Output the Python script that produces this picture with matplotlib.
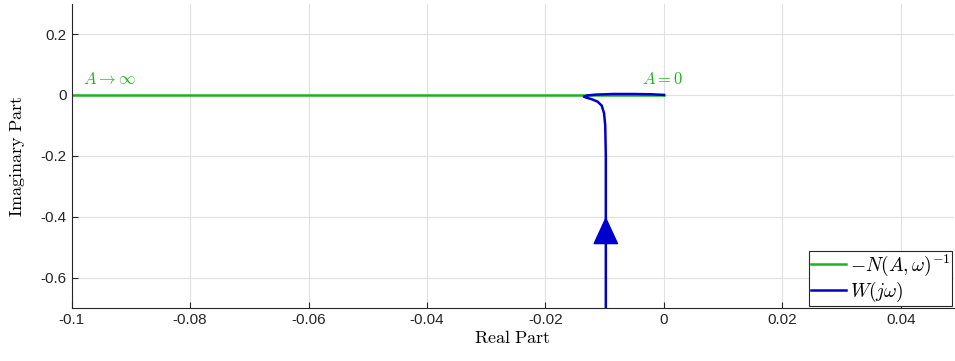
import numpy as np
import matplotlib.pyplot as plt

plt.rcParams['mathtext.fontset'] = 'cm'
plt.rcParams['font.family'] = ['Liberation Sans', 'DejaVu Sans']

# -N(A,w)^-1 : eje real negativo
n_re = [-0.1, 0.0]
n_im = [0.0, 0.0]

# W(jw)
w_re = [-0.0098, -0.0098, -0.0098, -0.0099, -0.0101, -0.0105, -0.0112, -0.0122,
        -0.0131, -0.0135, -0.0130, -0.0115, -0.0085, -0.005, -0.002, 0.0]
w_im = [-0.70, -0.40, -0.20, -0.10, -0.06, -0.035, -0.022, -0.014,
        -0.009, -0.006, -0.002, 0.001, 0.003, 0.003, 0.002, 0.0]

green = '#1fb21f'
blue = '#0000cc'

fig, ax = plt.subplots(figsize=(9.55, 3.61), dpi=100)
fig.subplots_adjust(left=0.075, right=0.999, top=0.99, bottom=0.147)

ax.plot(n_re, n_im, color=green, lw=1.8, label=r'$-N(A,\omega)^{-1}$')
ax.plot(w_re, w_im, color=blue, lw=1.8, label=r'$W(j\omega)$')

# flecha de direccion
ax.annotate('', xy=(w_re[1], -0.40), xytext=(w_re[1], -0.50),
            arrowprops=dict(arrowstyle='-|>,head_length=1.3,head_width=0.6',
                            color=blue, lw=1.0,
                            mutation_scale=14, shrinkA=0, shrinkB=0))

ax.text(-0.098, 0.035, r'$A\rightarrow\infty$', color=green, fontsize=12)
ax.text(-0.0037, 0.035, r'$A=0$', color=green, fontsize=12)

ax.set_xlim(-0.1, 0.049)
ax.set_ylim(-0.7, 0.3)
ax.set_xticks(np.arange(-0.1, 0.041, 0.02))
ax.set_xticklabels(['-0.1', '-0.08', '-0.06', '-0.04', '-0.02', '0', '0.02', '0.04'])
ax.set_yticks([-0.6, -0.4, -0.2, 0, 0.2])
ax.set_yticklabels(['-0.6', '-0.4', '-0.2', '0', '0.2'])
ax.tick_params(labelsize=11, direction='in', length=4, colors='#262626')
ax.grid(color='#e0e0e0', lw=0.8)
ax.set_axisbelow(True)
for s in ['top', 'right']:
    ax.spines[s].set_visible(False)
for s in ['left', 'bottom']:
    ax.spines[s].set_color('#262626')

ax.set_xlabel(r'$\mathrm{Real\ Part}$', fontsize=13, labelpad=2)
ax.set_ylabel(r'$\mathrm{Imaginary\ Part}$', fontsize=13, labelpad=10)

leg = ax.legend(loc='lower right', fontsize=14, fancybox=False, framealpha=1,
                edgecolor='#262626', borderpad=0.1, handlelength=1.8,
                handletextpad=0.2, labelspacing=0.1, borderaxespad=0.1)
leg.get_frame().set_linewidth(0.8)

plt.savefig('out.png')
